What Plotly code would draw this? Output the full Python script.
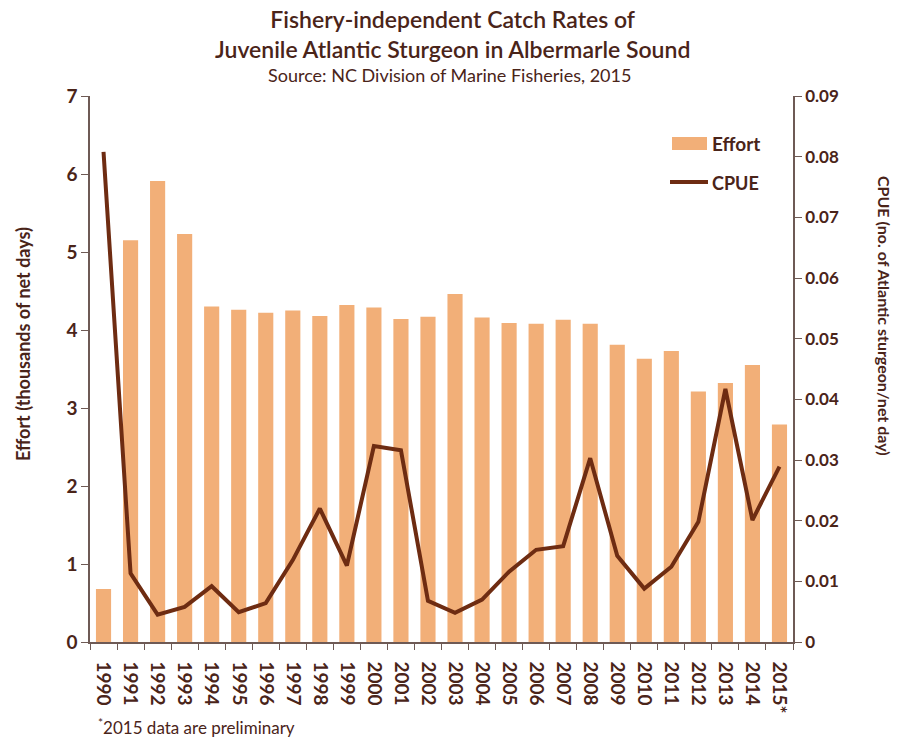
import plotly.graph_objects as go

years = ["1990", "1991", "1992", "1993", "1994", "1995", "1996", "1997", "1998", "1999",
         "2000", "2001", "2002", "2003", "2004", "2005", "2006", "2007", "2008", "2009",
         "2010", "2011", "2012", "2013", "2014", "2015*"]
effort = [0.68, 5.15, 5.91, 5.23, 4.30, 4.26, 4.22, 4.25, 4.18, 4.32,
          4.29, 4.14, 4.17, 4.46, 4.16, 4.09, 4.08, 4.13, 4.08, 3.81,
          3.63, 3.73, 3.21, 3.32, 3.55, 2.79]
cpue = [0.0808, 0.0113, 0.0045, 0.0058, 0.0092, 0.0049, 0.0064, 0.0135, 0.0220, 0.0126,
        0.0323, 0.0316, 0.0068, 0.0048, 0.0070, 0.0116, 0.0152, 0.0158, 0.0303, 0.0142,
        0.0088, 0.0124, 0.0198, 0.0417, 0.0201, 0.0289]

left_ticks = [0, 1, 2, 3, 4, 5, 6, 7]
right_ticks = [0, 0.01, 0.02, 0.03, 0.04, 0.05, 0.06, 0.07, 0.08, 0.09]
right_ticktext = ["0", "0.01", "0.02", "0.03", "0.04", "0.05", "0.06", "0.07", "0.08", "0.09"]

TXT = "#4a2419"
AXC = "#6e5a55"
BAR = "#f2af78"
LINE = "#6e2c12"
FONT = "Lato"

W, H = 903, 734
ML, MR, MT, MB = 82, 118, 88, 100
PW, PH = W - ML - MR, H - MT - MB


def px(x):
    return (x - 8 - ML) / PW


def py(y):
    return 1 - (y - 8 - MT) / PH


fig = go.Figure()
fig.add_trace(go.Bar(x=years, y=effort, name="Effort", marker=dict(color=BAR, line=dict(width=0))))
fig.add_trace(go.Scatter(x=years, y=cpue, name="CPUE", mode="lines", yaxis="y2",
                         line=dict(color=LINE, width=4)))

fig.update_layout(
    width=W, height=H,
    margin=dict(l=ML, r=MR, t=MT, b=MB),
    plot_bgcolor="white", paper_bgcolor="white",
    bargap=0.44,
    showlegend=False,
    xaxis=dict(type="category", tickangle=90, showline=True, linecolor=AXC, linewidth=1.5,
               ticks="outside", tickson="boundaries", ticklen=6, tickcolor=AXC,
               ticklabelstandoff=14,
               tickfont=dict(family=FONT, size=19, color=TXT, weight="bold"),
               range=[-0.5, 25.5], automargin=False),
    yaxis=dict(range=[0, 7], tickvals=left_ticks, showgrid=False, showline=True,
               linecolor=AXC, linewidth=1.5, ticks="outside", ticklen=7, tickcolor=AXC,
               tickfont=dict(family=FONT, size=19, color=TXT, weight="bold"),
               zeroline=False, automargin=False),
    yaxis2=dict(range=[0, 0.09], overlaying="y", side="right", tickvals=right_ticks,
                ticktext=right_ticktext, showgrid=False, showline=True, linecolor=AXC,
                linewidth=1.5, ticks="outside", ticklen=7, tickcolor=AXC,
                tickfont=dict(family=FONT, size=17, color=TXT, weight="bold"),
                zeroline=False, automargin=False),
)

# custom legend
fig.add_shape(type="rect", xref="paper", yref="paper", x0=px(672), x1=px(707),
              y0=py(150), y1=py(137), fillcolor=BAR, line=dict(width=0))
fig.add_shape(type="line", xref="paper", yref="paper", x0=px(670), x1=px(708),
              y0=py(182), y1=py(182), line=dict(color=LINE, width=4))
fig.add_annotation(text="Effort", xref="paper", yref="paper", x=px(710), y=py(143),
                   xanchor="left", yanchor="middle", showarrow=False,
                   font=dict(family=FONT, size=19, color=TXT, weight="bold"))
fig.add_annotation(text="CPUE", xref="paper", yref="paper", x=px(710), y=py(183),
                   xanchor="left", yanchor="middle", showarrow=False,
                   font=dict(family=FONT, size=18, color=TXT, weight="bold"))

fig.add_annotation(text="Fishery-independent Catch Rates of<br>Juvenile Atlantic Sturgeon in Albermarle Sound",
                   xref="paper", yref="paper", x=px(452), y=py(34), xanchor="center", yanchor="middle",
                   showarrow=False, align="center",
                   font=dict(family=FONT, size=23, color=TXT, weight=600))
fig.add_annotation(text="Source: NC Division of Marine Fisheries, 2015",
                   xref="paper", yref="paper", x=px(449), y=py(75), xanchor="center", yanchor="middle",
                   showarrow=False, font=dict(family=FONT, size=18, color=TXT))
fig.add_annotation(text="Effort (thousands of net days)", xref="paper", yref="paper",
                   x=px(23), y=py(344), xanchor="center", yanchor="middle",
                   textangle=-90, showarrow=False,
                   font=dict(family=FONT, size=18, color=TXT, weight="bold"))
fig.add_annotation(text="CPUE (no. of Atlantic sturgeon/net day)", xref="paper", yref="paper",
                   x=px(885), y=py(316), xanchor="center", yanchor="middle",
                   textangle=90, showarrow=False,
                   font=dict(family=FONT, size=16, color=TXT, weight="bold"))
fig.add_annotation(text="<sup>*</sup>2015 data are preliminary", xref="paper", yref="paper",
                   x=px(96), y=py(727), xanchor="left", yanchor="middle",
                   showarrow=False, font=dict(family=FONT, size=17, color=TXT))

fig.write_html("out.html")
